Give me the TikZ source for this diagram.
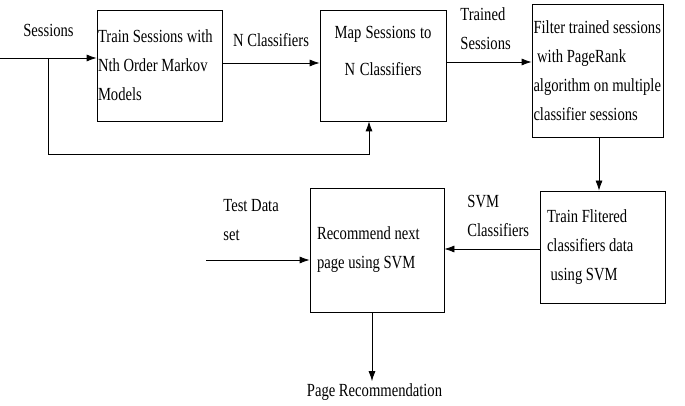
\documentclass[tikz,border=0pt]{standalone}
\usepackage{fontspec}
\setmainfont[FakeStretch=0.79]{Liberation Serif}
\usetikzlibrary{arrows.meta}

\tikzset{
  box/.style={draw, rectangle, align=left, inner xsep=7pt, inner ysep=0pt,
    execute at begin node={\spaceskip=0pt\relax\hyphenpenalty=10000\relax}},
  flow/.style={-{Latex[length=10pt,width=7pt]}},
  txt/.style={align=left, inner sep=0pt},
}

\begin{document}
\begin{tikzpicture}[x=1pt,y=-1pt, line width=0.8pt, font=\fontsize{18.5}{29}\selectfont]
    \useasboundingbox (0,0) rectangle (685,406);

    % processing steps
    \node[box, inner xsep=1pt, text width=123pt, minimum height=111pt] (train) at (159.5,65.5) {Train Sessions with\\Nth Order Markov\\Models};
    \node[box, align=center, inner xsep=4pt, text width=118pt, minimum height=111pt] (map) at (383,65.5) {Map Sessions to\\[8pt]N Classifiers\\\mbox{}};
    \node[box, inner xsep=1.5pt, text width=128pt, minimum height=133pt] (filter) at (597.5,70.5) {Filter trained sessions\\\ with PageRank\\algorithm on multiple\\classifier sessions};
    \node[box, text width=111pt, minimum height=112pt] (svm) at (602.5,247) {Train Flitered\\classifiers data\\\ using SVM};
    \node[box, text width=120pt, minimum height=124pt] (rec) at (377,250) {Recommend next\\page using SVM};

    % labels
    \node[txt] (sess) at (48.5,30) {Sessions};
    \node[txt] (ncls) at (271,40) {N Classifiers};
    \node[txt, anchor=west] (trained) at (460,29) {Trained\\Sessions};
    \node[txt, anchor=west] (svmcls) at (467,216) {SVM\\Classifiers};
    \node[txt, anchor=west] (test) at (223,220) {Test Data\\set};
    \node[inner sep=2pt] (out) at (374.5,392) {Page Recommendation};

    \coordinate (in) at (0,58);
    \coordinate (split) at (48,58);
    \coordinate (bend) at (369,154);
    \coordinate (testin) at (206,260);

    \draw[flow] (in) -- (in -| train.west);
    \draw[flow] (split) |- (bend) -- (bend |- map.south);
    \draw[flow] ([yshift=2.5pt]train.east) -- ([yshift=2.5pt]train.east -| map.west);
    \draw[flow] ([yshift=3.5pt]map.east) -- ([yshift=3.5pt]map.east -| filter.west);
    \draw[flow] ([xshift=1.5pt]filter.south) -- ([xshift=1.5pt]filter.south |- svm.north);
    \draw[flow] ([yshift=-2pt]svm.west) -- ([yshift=-2pt]svm.west -| rec.east);
    \draw[flow] (testin) -- (testin -| rec.west);
    \draw[flow] ([xshift=-5pt]rec.south) -- ([xshift=-5pt]rec.south |- out.north);

\end{tikzpicture}
\end{document}
